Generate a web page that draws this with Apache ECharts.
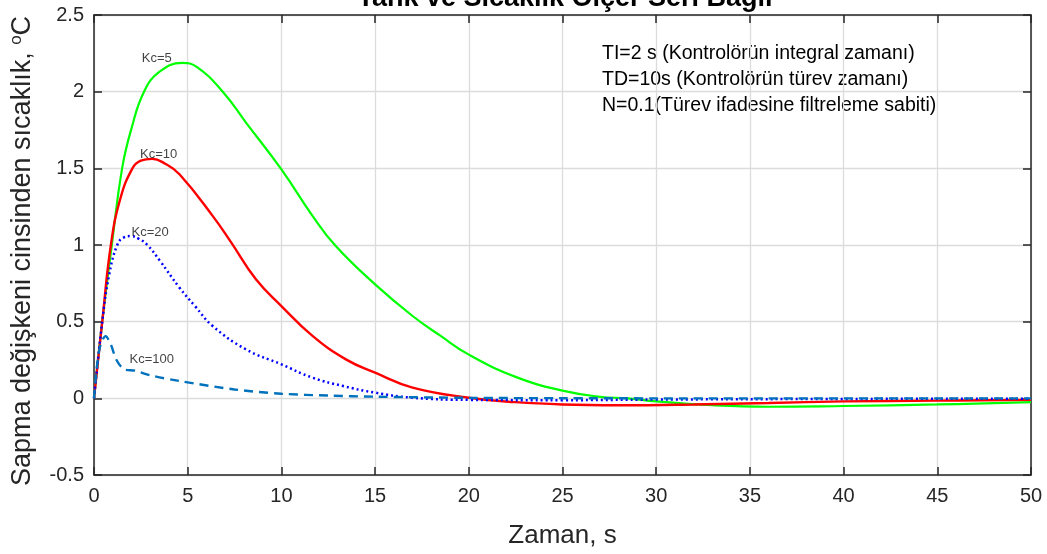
<!DOCTYPE html>
<html><head><meta charset="utf-8">
<script src="https://cdn.jsdelivr.net/npm/echarts@6/dist/echarts.min.js"></script>
<style>html,body{margin:0;padding:0;background:#fff}#c{width:1047px;height:554px}</style>
</head><body><div id="c"></div>
<script>
// Kc = 5 (green)
const tKc5 = [0, 0.44, 0.95, 1.5, 2.0, 2.67, 3.5, 4.7, 5.5, 6.87, 8.1, 10.0, 11.66, 12.9, 15.0, 17.0, 18.5, 20.0, 22.5, 25.0, 27.0, 28.5, 30.0, 33.0, 36.0, 40.0, 45.0, 50.0];
const vKc5 = [0, 0.5, 1.0, 1.5, 1.76, 2.0, 2.13, 2.188, 2.16, 2.0, 1.80, 1.493, 1.19, 0.993, 0.743, 0.537, 0.407, 0.285, 0.14, 0.05, 0.01, 0.0, -0.02, -0.045, -0.055, -0.05, -0.04, -0.025];
// Kc = 10 (red)
const tKc10 = [0, 0.44, 0.9, 1.4, 2.05, 2.5, 3.1, 3.8, 4.56, 6.33, 7.3, 8.64, 10.0, 11.66, 13.44, 15.0, 17.0, 20.0, 22.5, 25.0, 28.0, 32.0, 36.0, 40.0, 45.0, 50.0];
const vKc10 = [0, 0.5, 1.0, 1.3, 1.5, 1.55, 1.562, 1.53, 1.461, 1.19, 1.02, 0.776, 0.602, 0.407, 0.254, 0.167, 0.07, 0.004, -0.025, -0.04, -0.045, -0.04, -0.03, -0.02, -0.015, -0.01];
// Kc = 20 (blue dotted)
const tKc20 = [0, 0.44, 0.8, 1.24, 1.6, 1.96, 2.4, 2.85, 3.5, 4.56, 5.4, 6.33, 8.1, 10.0, 11.66, 13.3, 15.0, 17.0, 20.0, 25.0, 30.0, 40.0, 50.0];
const vKc20 = [0, 0.5, 0.8, 1.0, 1.05, 1.058, 1.04, 1.0, 0.9, 0.722, 0.6, 0.472, 0.32, 0.222, 0.135, 0.08, 0.037, 0.004, -0.01, -0.012, -0.008, -0.004, -0.002];
// Kc = 100 (dashed)
const tKc100 = [0, 0.15, 0.35, 0.62, 0.9, 1.2, 1.6, 2.2, 3.0, 4.56, 7.5, 10.0, 12.5, 15.0, 20.0, 25.0, 30.0, 50.0];
const vKc100 = [0, 0.2, 0.35, 0.406, 0.35, 0.25, 0.19, 0.18, 0.15, 0.113, 0.058, 0.03, 0.018, 0.011, 0.003, 0.001, 0, 0];

const curveLabels = ['Kc=5', 'Kc=10', 'Kc=20', 'Kc=100'];
const labelT = [3.35, 3.45, 3.0, 3.08];
const labelV = [2.214, 1.59, 1.08, 0.254];

const noteLines = ['TI=2 s (Kontrolörün integral zamanı)', 'TD=10s (Kontrolörün türev zamanı)', 'N=0.1(Türev ifadesine filtreleme sabiti)'];
const titleText = 'Tank ve Sıcaklık Ölçer Seri Bağlı';
const xName = 'Zaman, s';
const yName = 'Sapma değişkeni cinsinden sıcaklık, {sup|o}C';

const zip = (a, b) => a.map((t, i) => [t, b[i]]);
const FONT = 'Liberation Sans, Arial, sans-serif';
const AX = '#262626';

const chart = echarts.init(document.getElementById('c'));
const axLine = { show: true, onZero: false, lineStyle: { color: AX, width: 1.5 } };
const axTick = { inside: true, length: 8, lineStyle: { color: AX, width: 1.5 } };
const grid = { show: true, lineStyle: { color: '#dcdcdc', width: 1.3 } };
chart.setOption({
  animation: false,
  grid: { left: 94, right: 16, top: 15, bottom: 79, containLabel: false, outerBoundsMode: 'none' },
  xAxis: [{
    type: 'value', min: 0, max: 50, interval: 5,
    name: xName, nameLocation: 'middle', nameGap: 48,
    nameTextStyle: { fontFamily: FONT, fontSize: 26, color: AX },
    axisLine: axLine, axisTick: axTick,
    axisLabel: { fontFamily: FONT, fontSize: 20, color: AX, margin: 11 },
    splitLine: grid
  }, {
    type: 'value', position: 'top', min: 0, max: 50, interval: 5,
    axisLine: axLine, axisTick: axTick, axisLabel: { show: false }, splitLine: { show: false }
  }],
  yAxis: [{
    type: 'value', min: -0.5, max: 2.5, interval: 0.5,
    name: yName, nameLocation: 'middle', nameGap: 57, nameRotate: 90,
    nameTextStyle: { fontFamily: FONT, fontSize: 27, color: AX, padding: [0, 12, 0, 0], rich: { sup: { fontSize: 17, verticalAlign: 'top', padding: [0, 0, 12, 0], fontFamily: FONT, color: AX } } },
    axisLine: axLine, axisTick: axTick,
    axisLabel: { fontFamily: FONT, fontSize: 20, color: AX, margin: 10, formatter: v => String(v) },
    splitLine: grid
  }, {
    type: 'value', position: 'right', min: -0.5, max: 2.5, interval: 0.5,
    axisLine: axLine, axisTick: axTick, axisLabel: { show: false }, splitLine: { show: false }
  }],
  graphic: [{
    type: 'text', x: 565, y: 12, z: 10,
    style: { text: titleText, font: 'bold 27px ' + FONT, fill: '#000', textAlign: 'center', textVerticalAlign: 'bottom' }
  }].concat(noteLines.map((s, i) => ({
    type: 'text', left: 602, top: 44 + i * 25.8,
    style: { text: s, font: '19.5px ' + FONT, fill: '#000' }
  }))),
  series: [
    { type: 'line', data: zip(tKc5, vKc5), smooth: 0.45, symbol: 'none', lineStyle: { color: '#00ff00', width: 2.2 }, z: 3 },
    { type: 'line', data: zip(tKc10, vKc10), smooth: 0.45, symbol: 'none', lineStyle: { color: '#ff0000', width: 2.4 }, z: 4 },
    { type: 'line', data: zip(tKc20, vKc20), smooth: 0.45, symbol: 'none', lineStyle: { color: '#0000ff', width: 2.5, type: [2, 3] }, z: 5 },
    { type: 'line', data: zip(tKc100, vKc100), smooth: 0.3, symbol: 'none', lineStyle: { color: '#0072bd', width: 2.4, type: [9, 6] }, z: 6 },
    { type: 'scatter', symbolSize: 0, data: zip(labelT, labelV).map((p, i) => ({ value: p, name: curveLabels[i] })),
      label: { show: true, position: 'inside', formatter: p => p.name, fontFamily: FONT, fontSize: 13, color: '#111' }, z: 7 }
  ]
});
</script></body></html>
